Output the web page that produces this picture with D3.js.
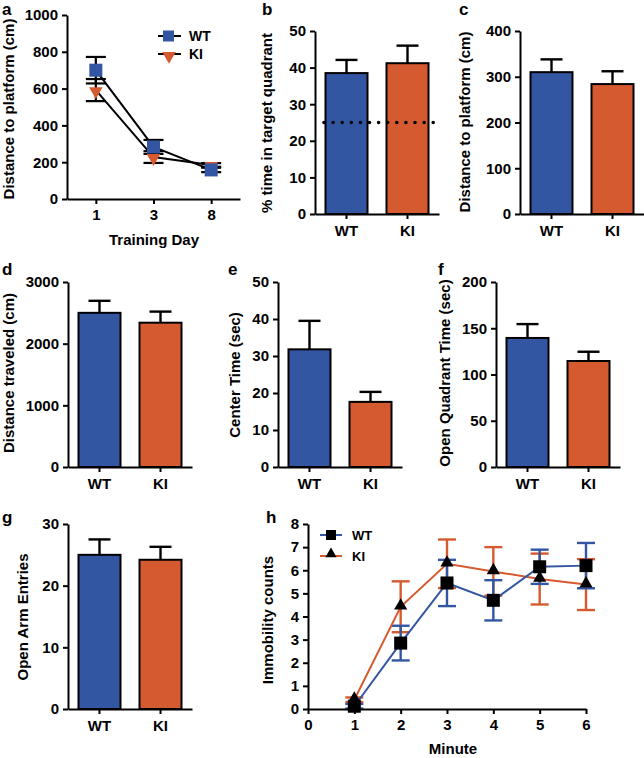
<!DOCTYPE html>
<html><head><meta charset="utf-8">
<script src="https://cdn.jsdelivr.net/npm/d3@7"></script>
<style>
body{margin:0;background:#fff;}
svg{display:block;font-family:"Liberation Sans",Arial,Helvetica,sans-serif;}
.axis path,.axis line{stroke:#000;stroke-width:2;}
.axis text{font-weight:bold;font-size:15px;fill:#000;}
</style></head><body>
<svg id="chart" width="644" height="758"></svg>
<script>
// ---------- DATA ----------
const groups = ["WT", "KI"];
const colors = {WT: "#3356a2", KI: "#d65a2f"};

// a: training days
const trainDays = ["1", "3", "8"];
const trainWT = [700, 283, 158];
const trainWTerr = [72, 38, 12];
const trainKI = [592, 228, 185];
const trainKIerr = [60, 32, 10];

// b
const quadMean = [38.5, 41.2];
const quadErr = [3.6, 4.8];
const chanceLevel = 25;
// c
const probeDist = [310, 284];
const probeDistErr = [28, 28];
// d
const distTraveled = [2500, 2340];
const distTraveledErr = [195, 180];
// e
const centerTime = [31.8, 17.6];
const centerTimeErr = [7.7, 2.7];
// f
const openQuadTime = [139.5, 114.6];
const openQuadTimeErr = [15, 10];
// g
const openArm = [25.0, 24.2];
const openArmErr = [2.5, 2.1];
// h
const minutes = [1, 2, 3, 4, 5, 6];
const immWT = [0.12, 2.85, 5.45, 4.7, 6.15, 6.2];
const immWTerr = [0.1, 0.75, 1.0, 0.87, 0.74, 0.98];
const immKI = [0.4, 4.42, 6.28, 5.95, 5.62, 5.38];
const immKIerr = [0.1, 1.1, 1.05, 1.05, 1.1, 1.1];

const svg = d3.select("#chart");

function panelLabel(t, x, y){
  svg.append("text").attr("x", x).attr("y", y).text(t)
    .attr("font-size", 17).attr("font-weight", "bold");
}
function yTitle(t, x, y, weight, size){
  svg.append("text").attr("transform", `translate(${x},${y}) rotate(-90)`)
    .attr("text-anchor", "middle").attr("font-size", size || 15)
    .attr("font-weight", weight || "bold").text(t);
}

function barPanel(opt){
  const g = svg.append("g");
  const x = d3.scaleBand().domain(groups).range([opt.x0, opt.x0 + 124])
    .paddingInner(0.3115).paddingOuter(0.172);
  const y = d3.scaleLinear().domain([0, opt.max]).range([opt.yb, opt.yt]);
  groups.forEach((k, i) => {
    const v = opt.vals[i], e = opt.errs[i];
    const cx = x(k) + x.bandwidth() / 2;
    g.append("line").attr("x1", cx).attr("x2", cx).attr("y1", y(v)).attr("y2", y(v + e))
      .attr("stroke", "#000").attr("stroke-width", 2.4);
    g.append("line").attr("x1", cx - 11).attr("x2", cx + 11).attr("y1", y(v + e)).attr("y2", y(v + e))
      .attr("stroke", "#000").attr("stroke-width", 2.4);
    g.append("rect").attr("x", x(k)).attr("width", x.bandwidth())
      .attr("y", y(v)).attr("height", y(0) - y(v))
      .attr("fill", colors[k]).attr("stroke", "#000").attr("stroke-width", 2);
  });
  if (opt.ref !== undefined) {
    g.append("line").attr("x1", opt.x0 + 9).attr("x2", opt.x0 + 124)
      .attr("y1", y(opt.ref)).attr("y2", y(opt.ref))
      .attr("stroke", "#000").attr("stroke-width", 3.6)
      .attr("stroke-linecap", "round").attr("stroke-dasharray", "0,9.1");
  }
  const ya = d3.axisLeft(y).tickValues(d3.range(0, opt.max + 1e-9, opt.step))
    .tickSize(5).tickPadding(4).tickSizeOuter(0).tickFormat(d3.format("d"));
  g.append("g").attr("class", "axis").attr("transform", `translate(${opt.x0},0)`).call(ya);
  const xa = d3.axisBottom(x).tickSize(5).tickPadding(6).tickSizeOuter(0);
  g.append("g").attr("class", "axis").attr("transform", `translate(0,${opt.yb})`).call(xa);
  return g;
}

// ---------- Panel a ----------
(function(){
  const x0 = 67, x1 = 240, yt = 15, yb = 199;
  const x = d3.scalePoint().domain(trainDays).range([x0, x1]).padding(0.5);
  const y = d3.scaleLinear().domain([0, 1000]).range([yb, yt]);
  const g = svg.append("g");
  const line = d3.line().x((d, i) => x(trainDays[i])).y(d => y(d));
  [[trainWT, trainWTerr], [trainKI, trainKIerr]].forEach(([vals, errs]) => {
    g.append("path").datum(vals).attr("d", line).attr("fill", "none")
      .attr("stroke", "#000").attr("stroke-width", 2);
    vals.forEach((v, i) => {
      const cx = x(trainDays[i]);
      g.append("line").attr("x1", cx).attr("x2", cx).attr("y1", y(v - errs[i])).attr("y2", y(v + errs[i]))
        .attr("stroke", "#000").attr("stroke-width", 2.2);
      [v - errs[i], v + errs[i]].forEach(e => g.append("line").attr("x1", cx - 10).attr("x2", cx + 10)
        .attr("y1", y(e)).attr("y2", y(e)).attr("stroke", "#000").attr("stroke-width", 2.2));
    });
  });
  const tri = d3.symbol().type(d3.symbolTriangle).size(80);
  trainKI.forEach((v, i) => {
    g.append("path").attr("d", tri).attr("fill", colors.KI)
      .attr("transform", `translate(${x(trainDays[i])},${y(v) + 1}) rotate(180)`);
  });
  trainWT.forEach((v, i) => {
    g.append("rect").attr("x", x(trainDays[i]) - 6.5).attr("y", y(v) - 6.5)
      .attr("width", 13).attr("height", 13).attr("fill", colors.WT);
  });
  const ya = d3.axisLeft(y).tickValues(d3.range(0, 1001, 200)).tickSize(5).tickPadding(4)
    .tickSizeOuter(0).tickFormat(d3.format("d"));
  g.append("g").attr("class", "axis").attr("transform", `translate(${x0},0)`).call(ya);
  const xa = d3.axisBottom(x).tickSize(5).tickPadding(5).tickSizeOuter(0);
  const xg = g.append("g").attr("class", "axis").attr("transform", `translate(0,${yb})`).call(xa);
  xg.selectAll("text").attr("font-size", 16);
  // legend
  const lg = svg.append("g");
  lg.append("line").attr("x1", 158).attr("x2", 181).attr("y1", 36).attr("y2", 36).attr("stroke", "#000").attr("stroke-width", 2);
  lg.append("rect").attr("x", 163).attr("y", 30.5).attr("width", 11).attr("height", 11).attr("fill", colors.WT);
  lg.append("text").attr("x", 189).attr("y", 41).text("WT").attr("font-size", 14).attr("font-weight", "bold");
  lg.append("line").attr("x1", 158).attr("x2", 181).attr("y1", 54).attr("y2", 54).attr("stroke", "#000").attr("stroke-width", 2);
  lg.append("path").attr("d", tri).attr("fill", colors.KI).attr("transform", "translate(169,56) rotate(180)");
  lg.append("text").attr("x", 189).attr("y", 59).text("KI").attr("font-size", 14).attr("font-weight", "bold");
  svg.append("text").attr("x", 154).attr("y", 245).attr("text-anchor", "middle")
    .attr("font-size", 15).attr("font-weight", "bold").text("Training Day");
})();
panelLabel("a", 2, 15);
yTitle("Distance to platform (cm)", 14, 109);

// ---------- Panel b ----------
barPanel({x0: 315, yt: 31, yb: 214, max: 50, step: 10, vals: quadMean, errs: quadErr, ref: chanceLevel});
panelLabel("b", 262, 15);
yTitle("% time in target quadrant", 272, 123);

// ---------- Panel c ----------
barPanel({x0: 520, yt: 31, yb: 214, max: 400, step: 100, vals: probeDist, errs: probeDistErr});
panelLabel("c", 459, 15);
yTitle("Distance to platform (cm)", 470, 122);

// ---------- Panel d ----------
barPanel({x0: 68, yt: 282, yb: 467, max: 3000, step: 1000, vals: distTraveled, errs: distTraveledErr});
panelLabel("d", 2, 275);
yTitle("Distance traveled (cm)", 14, 373);

// ---------- Panel e ----------
barPanel({x0: 278, yt: 282, yb: 467, max: 50, step: 10, vals: centerTime, errs: centerTimeErr});
panelLabel("e", 228, 275);
yTitle("Center Time (sec)", 240, 375);

// ---------- Panel f ----------
barPanel({x0: 496, yt: 282, yb: 467, max: 200, step: 50, vals: openQuadTime, errs: openQuadTimeErr});
panelLabel("f", 438, 275);
yTitle("Open Quadrant Time  (sec)", 450, 373);

// ---------- Panel g ----------
barPanel({x0: 68, yt: 524, yb: 709, max: 30, step: 10, vals: openArm, errs: openArmErr});
panelLabel("g", 2, 523);
yTitle("Open Arm Entries", 28, 617, "600", 15);

// ---------- Panel h ----------
(function(){
  const x0 = 308, x1 = 586, yt = 524, yb = 709;
  const x = d3.scaleLinear().domain([0, 6]).range([x0, x1]);
  const y = d3.scaleLinear().domain([0, 8]).range([yb, yt]);
  const g = svg.append("g");
  const line = d3.line().x((d, i) => x(minutes[i])).y(d => y(d));
  const series = [
    {vals: immKI, errs: immKIerr, col: colors.KI, key: "KI"},
    {vals: immWT, errs: immWTerr, col: colors.WT, key: "WT"}
  ];
  series.forEach(s => {
    s.vals.forEach((v, i) => {
      const cx = x(minutes[i]);
      g.append("line").attr("x1", cx).attr("x2", cx).attr("y1", y(v - s.errs[i])).attr("y2", y(v + s.errs[i]))
        .attr("stroke", s.col).attr("stroke-width", 2.4);
      [v - s.errs[i], v + s.errs[i]].forEach(e => g.append("line").attr("x1", cx - 9).attr("x2", cx + 9)
        .attr("y1", y(e)).attr("y2", y(e)).attr("stroke", s.col).attr("stroke-width", 2.4));
    });
  });
  series.forEach(s => {
    g.append("path").datum(s.vals).attr("d", line).attr("fill", "none")
      .attr("stroke", s.col).attr("stroke-width", 2);
  });
  const tri = d3.symbol().type(d3.symbolTriangle).size(75);
  immKI.forEach((v, i) => g.append("path").attr("d", tri).attr("fill", "#000")
    .attr("transform", `translate(${x(minutes[i])},${y(v) - 1})`));
  immWT.forEach((v, i) => g.append("rect").attr("x", x(minutes[i]) - 6.5).attr("y", y(v) - 6.5)
    .attr("width", 13).attr("height", 13).attr("fill", "#000"));
  const ya = d3.axisLeft(y).ticks(8).tickSize(5).tickPadding(4).tickSizeOuter(0);
  const yg = g.append("g").attr("class", "axis").attr("transform", `translate(${x0},0)`).call(ya);
  yg.selectAll("text").attr("font-size", 17);
  const xa = d3.axisBottom(x).ticks(6).tickSize(5).tickPadding(5).tickSizeOuter(0);
  const xg = g.append("g").attr("class", "axis").attr("transform", `translate(0,${yb})`).call(xa);
  xg.selectAll("text").attr("font-size", 17);
  // legend
  const lg = svg.append("g");
  lg.append("line").attr("x1", 320).attr("x2", 342).attr("y1", 535).attr("y2", 535).attr("stroke", colors.WT).attr("stroke-width", 2);
  lg.append("rect").attr("x", 326).attr("y", 530).attr("width", 10).attr("height", 10).attr("fill", "#000");
  lg.append("text").attr("x", 352).attr("y", 540).text("WT").attr("font-size", 13).attr("font-weight", "bold");
  lg.append("line").attr("x1", 320).attr("x2", 342).attr("y1", 556).attr("y2", 556).attr("stroke", colors.KI).attr("stroke-width", 2);
  lg.append("path").attr("d", d3.symbol().type(d3.symbolTriangle).size(55)).attr("fill", "#000").attr("transform", "translate(331,554)");
  lg.append("text").attr("x", 352).attr("y", 561).text("KI").attr("font-size", 13).attr("font-weight", "bold");
  svg.append("text").attr("x", 453).attr("y", 754).attr("text-anchor", "middle")
    .attr("font-size", 15).attr("font-weight", "bold").text("Minute");
})();
panelLabel("h", 266, 523);
yTitle("Immobility counts", 273, 620, "600", 15);
</script>
</body></html>
